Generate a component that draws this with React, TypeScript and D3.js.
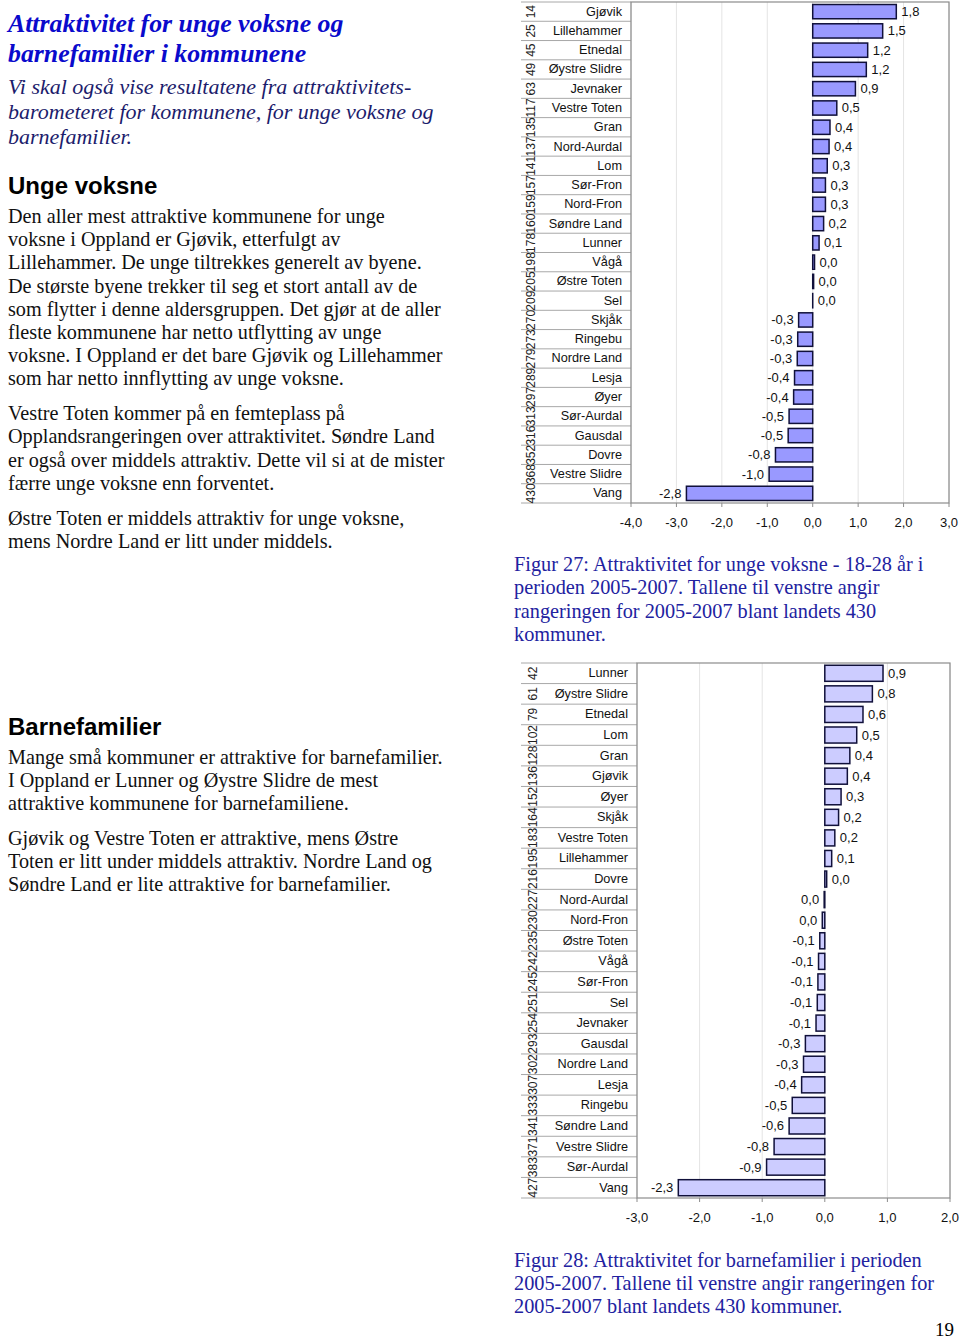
import React from "react";
import * as d3 from "d3";

// ---------- Data ----------
const youngNames = ["Gjøvik","Lillehammer","Etnedal","Øystre Slidre","Jevnaker","Vestre Toten","Gran","Nord-Aurdal","Lom","Sør-Fron","Nord-Fron","Søndre Land","Lunner","Vågå","Østre Toten","Sel","Skjåk","Ringebu","Nordre Land","Lesja","Øyer","Sør-Aurdal","Gausdal","Dovre","Vestre Slidre","Vang"];
const youngValues = [1.84,1.54,1.21,1.18,0.94,0.53,0.38,0.36,0.32,0.28,0.28,0.24,0.14,0.04,0.02,0.0,-0.31,-0.33,-0.34,-0.40,-0.42,-0.52,-0.54,-0.82,-0.96,-2.78];
const youngRanks = [14,25,45,49,63,117,135,137,141,157,159,160,178,198,205,209,270,273,279,289,297,313,316,352,368,430];
const youngTicks = [-4,-3,-2,-1,0,1,2,3];

const famNames = ["Lunner","Øystre Slidre","Etnedal","Lom","Gran","Gjøvik","Øyer","Skjåk","Vestre Toten","Lillehammer","Dovre","Nord-Aurdal","Nord-Fron","Østre Toten","Vågå","Sør-Fron","Sel","Jevnaker","Gausdal","Nordre Land","Lesja","Ringebu","Søndre Land","Vestre Slidre","Sør-Aurdal","Vang"];
const famValues = [0.93,0.76,0.61,0.51,0.40,0.36,0.26,0.22,0.16,0.11,0.03,-0.01,-0.04,-0.08,-0.10,-0.11,-0.12,-0.14,-0.31,-0.34,-0.37,-0.52,-0.57,-0.81,-0.93,-2.34];
const famRanks = [42,61,79,102,128,136,152,164,183,195,216,227,230,235,242,245,251,254,293,302,307,333,341,371,383,427];
const famTicks = [-3,-2,-1,0,1,2];

const titleLines = ["Attraktivitet for unge voksne og","barnefamilier i kommunene"];
const introLines = ["Vi skal også vise resultatene fra attraktivitets-","barometeret for kommunene, for unge voksne og","barnefamilier."];
const youngParas = [
  ["Den aller mest attraktive kommunene for unge","voksne i Oppland er Gjøvik, etterfulgt av","Lillehammer. De unge tiltrekkes generelt av byene.","De største byene trekker til seg et stort antall av de","som flytter i denne aldersgruppen. Det gjør at de aller","fleste kommunene har netto utflytting av unge","voksne. I Oppland er det bare Gjøvik og Lillehammer","som har netto innflytting av unge voksne."],
  ["Vestre Toten kommer på en femteplass på","Opplandsrangeringen over attraktivitet. Søndre Land","er også over middels attraktiv. Dette vil si at de mister","færre unge voksne enn forventet."],
  ["Østre Toten er middels attraktiv for unge voksne,","mens Nordre Land er litt under middels."]
];
const famParas = [
  ["Mange små kommuner er attraktive for barnefamilier.","I Oppland er Lunner og Øystre Slidre de mest","attraktive kommunene for barnefamiliene."],
  ["Gjøvik og Vestre Toten er attraktive, mens Østre","Toten er litt under middels attraktiv. Nordre Land og","Søndre Land er lite attraktive for barnefamilier."]
];
const caption27 = ["Figur 27: Attraktivitet for unge voksne - 18-28 år i","perioden 2005-2007. Tallene til venstre angir","rangeringen for 2005-2007 blant landets 430","kommuner."];
const caption28 = ["Figur 28: Attraktivitet for barnefamilier i perioden","2005-2007. Tallene til venstre angir rangeringen for","2005-2007 blant landets 430 kommuner."];

const loc = d3.formatLocale({ decimal: ",", thousands: " ", grouping: [3], currency: ["", ""], minus: "-" });
const fmt = loc.format(".1f");

const SANS = "Liberation Sans, Arial, sans-serif";
const SERIF = "Liberation Serif, Times New Roman, serif";

type ChartProps = {
  names: string[]; values: number[]; ranks: number[]; ticks: number[];
  x0: number; x1: number; yTop: number; yBot: number; nameX: number; rankX: number;
  lineX: number; fill: string; pad: number; tickY: number;
};

function BarChart(p: ChartProps) {
  const x = d3.scaleLinear().domain([p.ticks[0], p.ticks[p.ticks.length - 1]]).range([p.x0, p.x1]);
  const y = d3.scaleBand<string>().domain(p.names).range([p.yTop, p.yBot]).paddingInner(p.pad).paddingOuter(p.pad / 2);
  const step = y.step();
  const rowY = (i: number) => p.yTop + i * step;
  return (
    <g>
      <rect x={p.x0} y={p.yTop} width={p.x1 - p.x0} height={p.yBot - p.yTop} fill="#fff" />
      {p.ticks.map((t) => (
        <line key={"g" + t} x1={x(t)} x2={x(t)} y1={p.yTop} y2={p.yBot} stroke="#e4e4e4" strokeWidth={1} />
      ))}
      {p.names.map((n, i) => (
        <line key={"s" + i} x1={p.lineX} x2={p.x0} y1={rowY(i)} y2={rowY(i)} stroke="#a8a8a8" strokeWidth={1} />
      ))}
      <line x1={p.lineX} x2={p.x0} y1={p.yBot} y2={p.yBot} stroke="#a8a8a8" strokeWidth={1} />
      <rect x={p.x0} y={p.yTop} width={p.x1 - p.x0} height={p.yBot - p.yTop} fill="none" stroke="#8c8c8c" strokeWidth={1.2} />
      {p.ticks.map((t) => (
        <g key={"t" + t}>
          <line x1={x(t)} x2={x(t)} y1={p.yBot} y2={p.yBot + 4} stroke="#8c8c8c" />
          <text x={x(t)} y={p.tickY} textAnchor="middle" dominantBaseline="central" fontFamily={SANS} fontSize={13} fill="#111">{fmt(t)}</text>
        </g>
      ))}
      {p.names.map((n, i) => {
        const v = p.values[i];
        const bx = Math.min(x(0), x(v));
        const bw = Math.abs(x(v) - x(0));
        const yc = (y(n) as number) + y.bandwidth() / 2;
        return (
          <g key={n}>
            <rect x={bx} y={y(n)} width={Math.max(bw, 0.01)} height={y.bandwidth()} fill={p.fill} stroke="#10103a" strokeWidth={1.5} />
            <text x={v >= 0 ? x(v) + 5 : x(v) - 5} y={yc} textAnchor={v >= 0 ? "start" : "end"} dominantBaseline="central" fontFamily={SANS} fontSize={13} fill="#111">{fmt(v)}</text>
            <text x={p.nameX} y={yc} textAnchor="end" dominantBaseline="central" fontFamily={SANS} fontSize={12.7} fill="#111">{n}</text>
            <text transform={`translate(${p.rankX},${yc}) rotate(-90)`} textAnchor="middle" dominantBaseline="central" fontFamily={SANS} fontSize={12} fill="#222">{p.ranks[i]}</text>
          </g>
        );
      })}
    </g>
  );
}

function Lines({ lines, x, y, lh, size, color, weight, style, family }: any) {
  return (
    <text fontFamily={family} fontSize={size} fill={color} fontWeight={weight} fontStyle={style}>
      {lines.map((l: string, i: number) => (
        <tspan key={i} x={x} y={y + i * lh} dominantBaseline="central">{l}</tspan>
      ))}
    </text>
  );
}

export default function App() {
  return (
    <svg width={960} height={1339} style={{ position: "absolute", left: 0, top: 0, background: "#fff" }}>
      <rect width={960} height={1339} fill="#fff" />
      <Lines lines={titleLines} x={8} y={23} lh={30} size={25.8} color="#0a0acc" weight="bold" style="italic" family={SERIF} />
      <Lines lines={introLines} x={8} y={86} lh={25} size={22} color="#1c1c6c" style="italic" family={SERIF} />
      <text x={8} y={185} dominantBaseline="central" fontFamily={SANS} fontSize={24} fontWeight="bold" fill="#000">Unge voksne</text>
      <Lines lines={youngParas[0]} x={8} y={216} lh={23.2} size={20.2} color="#111" family={SERIF} />
      <Lines lines={youngParas[1]} x={8} y={413} lh={23.4} size={20.2} color="#111" family={SERIF} />
      <Lines lines={youngParas[2]} x={8} y={518} lh={23.4} size={20.2} color="#111" family={SERIF} />
      <text x={8} y={726} dominantBaseline="central" fontFamily={SANS} fontSize={24} fontWeight="bold" fill="#000">Barnefamilier</text>
      <Lines lines={famParas[0]} x={8} y={757} lh={23.2} size={20.2} color="#111" family={SERIF} />
      <Lines lines={famParas[1]} x={8} y={838} lh={23.2} size={20.2} color="#111" family={SERIF} />
      <Lines lines={caption27} x={514} y={564} lh={23.4} size={20.3} color="#2222a0" family={SERIF} />
      <Lines lines={caption28} x={514} y={1260} lh={23.2} size={20.3} color="#2222a0" family={SERIF} />
      <text x={954} y={1336} textAnchor="end" fontFamily={SERIF} fontSize={19} fill="#000">19</text>

      <BarChart names={youngNames} values={youngValues} ranks={youngRanks} ticks={youngTicks}
        x0={631} x1={949} yTop={2} yBot={503} nameX={622} rankX={531} lineX={521}
        fill="#9999ff" pad={0.26} tickY={522} />
      <BarChart names={famNames} values={famValues} ranks={famRanks} ticks={famTicks}
        x0={637} x1={950} yTop={663} yBot={1198} nameX={628} rankX={533} lineX={521}
        fill="#ccccff" pad={0.22} tickY={1217} />
    </svg>
  );
}
